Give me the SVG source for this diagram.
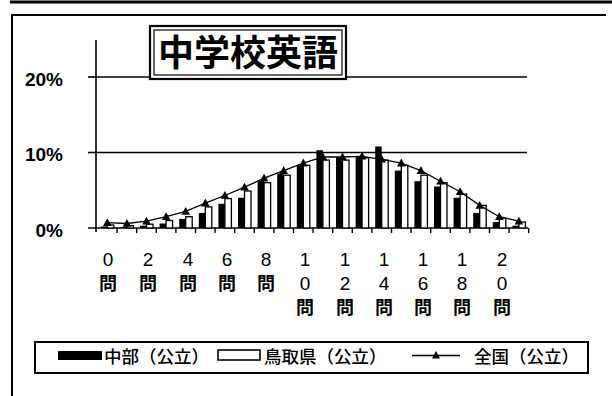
<svg xmlns="http://www.w3.org/2000/svg" width="612" height="396" viewBox="0 0 612 396">
<style>
.lbl{font-family:"Liberation Sans","Noto Sans CJK JP",sans-serif;font-size:19px;fill:#000;text-anchor:middle}
.kan{font-family:"Noto Sans CJK JP",sans-serif;font-size:18px;font-weight:bold;fill:#000;text-anchor:middle}
.ylbl{font-family:"Liberation Sans","Noto Sans CJK JP",sans-serif;font-size:19px;font-weight:bold;fill:#000;text-anchor:end}
.leg{font-family:"Noto Sans CJK JP",sans-serif;font-size:17.5px;font-weight:500;fill:#000}
.blk{fill:#000}
.wht{fill:#fff;stroke:#000;stroke-width:1.3}
.grid{stroke:#000;stroke-width:1.6;fill:none}
</style>
<defs>
<marker id="tri" markerUnits="userSpaceOnUse" markerWidth="10" markerHeight="10" refX="5" refY="5" viewBox="0 0 10 10" overflow="visible">
<path d="M5,0.5 L9.3,8.3 L0.7,8.3 Z" fill="#000"/>
</marker>
</defs>
<rect width="612" height="396" fill="#fff"/>
<g id="frame" fill="none" stroke="#000">
<line x1="10" y1="2" x2="612" y2="2" stroke-width="3"/>
<polyline points="12,396 12,15 606,15" stroke-width="2"/>
</g>
<g id="axes">
<line class="grid" x1="96" y1="77" x2="527" y2="77"/>
<line class="grid" x1="96" y1="152.5" x2="527" y2="152.5"/>
<line class="grid" x1="88" y1="228" x2="528" y2="228"/>
<line class="grid" x1="96" y1="40" x2="96" y2="232"/>
<line class="grid" x1="88" y1="77" x2="96" y2="77"/>
<line class="grid" x1="88" y1="152.5" x2="96" y2="152.5"/>
<g stroke="#000" stroke-width="1.4">
<line x1="117.1" y1="228" x2="117.1" y2="233"/><line x1="136.7" y1="228" x2="136.7" y2="233"/><line x1="156.3" y1="228" x2="156.3" y2="233"/><line x1="175.9" y1="228" x2="175.9" y2="233"/><line x1="195.5" y1="228" x2="195.5" y2="233"/><line x1="215.1" y1="228" x2="215.1" y2="233"/><line x1="234.7" y1="228" x2="234.7" y2="233"/><line x1="254.3" y1="228" x2="254.3" y2="233"/><line x1="273.9" y1="228" x2="273.9" y2="233"/><line x1="293.5" y1="228" x2="293.5" y2="233"/><line x1="313.1" y1="228" x2="313.1" y2="233"/><line x1="332.7" y1="228" x2="332.7" y2="233"/><line x1="352.3" y1="228" x2="352.3" y2="233"/><line x1="371.9" y1="228" x2="371.9" y2="233"/><line x1="391.5" y1="228" x2="391.5" y2="233"/><line x1="411.1" y1="228" x2="411.1" y2="233"/><line x1="430.7" y1="228" x2="430.7" y2="233"/><line x1="450.3" y1="228" x2="450.3" y2="233"/><line x1="469.9" y1="228" x2="469.9" y2="233"/><line x1="489.5" y1="228" x2="489.5" y2="233"/><line x1="509.1" y1="228" x2="509.1" y2="233"/><line x1="528.7" y1="228" x2="528.7" y2="233"/>
</g>
</g>
<g id="ylabels">
<text class="ylbl" x="63" y="86">20%</text>
<text class="ylbl" x="63" y="161">10%</text>
<text class="ylbl" x="63" y="237">0%</text>
</g>
<g id="series-chubu">
<rect class="blk" x="100.8" y="226.5" width="6.5" height="1.5"/>
<rect class="blk" x="120.4" y="227.2" width="6.5" height="0.8"/>
<rect class="blk" x="140" y="225.7" width="6.5" height="2.3"/>
<rect class="blk" x="159.6" y="223.5" width="6.5" height="4.5"/>
<rect class="blk" x="179.2" y="218.9" width="6.5" height="9.1"/>
<rect class="blk" x="198.8" y="212.9" width="6.5" height="15.1"/>
<rect class="blk" x="218.4" y="203.8" width="6.5" height="24.2"/>
<rect class="blk" x="238" y="197.8" width="6.5" height="30.2"/>
<rect class="blk" x="257.6" y="180.4" width="6.5" height="47.6"/>
<rect class="blk" x="277.2" y="173.6" width="6.5" height="54.4"/>
<rect class="blk" x="296.8" y="165.3" width="6.5" height="62.7"/>
<rect class="blk" x="316.4" y="150.2" width="6.5" height="77.8"/>
<rect class="blk" x="336" y="157" width="6.5" height="71"/>
<rect class="blk" x="355.6" y="156.3" width="6.5" height="71.7"/>
<rect class="blk" x="375.2" y="146.5" width="6.5" height="81.5"/>
<rect class="blk" x="394.8" y="170.6" width="6.5" height="57.4"/>
<rect class="blk" x="414.4" y="181.2" width="6.5" height="46.8"/>
<rect class="blk" x="434" y="186.5" width="6.5" height="41.5"/>
<rect class="blk" x="453.6" y="197.8" width="6.5" height="30.2"/>
<rect class="blk" x="473.2" y="212.9" width="6.5" height="15.1"/>
<rect class="blk" x="492.8" y="222" width="6.5" height="6"/>
<rect class="blk" x="512.4" y="225.7" width="6.5" height="2.3"/>
</g>
<g id="series-tottori">
<rect class="wht" x="107.3" y="225" width="6.5" height="3"/>
<rect class="wht" x="126.9" y="225.7" width="6.5" height="2.3"/>
<rect class="wht" x="146.5" y="224.2" width="6.5" height="3.8"/>
<rect class="wht" x="166.1" y="220.5" width="6.5" height="7.5"/>
<rect class="wht" x="185.7" y="216.7" width="6.5" height="11.3"/>
<rect class="wht" x="205.3" y="206.9" width="6.5" height="21.1"/>
<rect class="wht" x="224.9" y="198.6" width="6.5" height="29.4"/>
<rect class="wht" x="244.5" y="191" width="6.5" height="37"/>
<rect class="wht" x="264.1" y="182.7" width="6.5" height="45.3"/>
<rect class="wht" x="283.7" y="175.2" width="6.5" height="52.8"/>
<rect class="wht" x="303.3" y="165.3" width="6.5" height="62.7"/>
<rect class="wht" x="322.9" y="160.1" width="6.5" height="67.9"/>
<rect class="wht" x="342.5" y="160.1" width="6.5" height="67.9"/>
<rect class="wht" x="362.1" y="157.8" width="6.5" height="70.2"/>
<rect class="wht" x="381.7" y="160.1" width="6.5" height="67.9"/>
<rect class="wht" x="401.3" y="165.3" width="6.5" height="62.7"/>
<rect class="wht" x="420.9" y="175.2" width="6.5" height="52.8"/>
<rect class="wht" x="440.5" y="182.7" width="6.5" height="45.3"/>
<rect class="wht" x="460.1" y="194" width="6.5" height="34"/>
<rect class="wht" x="479.7" y="205.4" width="6.5" height="22.6"/>
<rect class="wht" x="499.3" y="218.2" width="6.5" height="9.8"/>
<rect class="wht" x="518.9" y="222" width="6.5" height="6"/>
</g>
<g id="series-national">
<polyline fill="none" stroke="#000" stroke-width="1.3" marker-start="url(#tri)" marker-mid="url(#tri)" marker-end="url(#tri)" points="107.3,222.7 126.9,223.5 146.5,221.2 166.1,216.7 185.7,211.4 205.3,203.1 224.9,195.5 244.5,187.2 264.1,178.2 283.7,170.6 303.3,163.1 322.9,157 342.5,157 362.1,156.3 381.7,159.3 401.3,163.1 420.9,170.6 440.5,181.2 460.1,191.8 479.7,205.4 499.3,216.7 518.9,221.2"/>
</g>
<g id="xlabels">
<text class="lbl" x="108" y="266">0</text>
<text class="lbl" x="148" y="266">2</text>
<text class="lbl" x="188" y="266">4</text>
<text class="lbl" x="227" y="266">6</text>
<text class="lbl" x="266" y="266">8</text>
<text class="lbl" x="305" y="266">1</text>
<text class="lbl" x="345" y="266">1</text>
<text class="lbl" x="384" y="266">1</text>
<text class="lbl" x="423" y="266">1</text>
<text class="lbl" x="462" y="266">1</text>
<text class="lbl" x="502" y="266">2</text>
<text class="kan" x="108" y="290">問</text>
<text class="kan" x="148" y="290">問</text>
<text class="kan" x="188" y="290">問</text>
<text class="kan" x="227" y="290">問</text>
<text class="kan" x="266" y="290">問</text>
<text class="lbl" x="305" y="290">0</text>
<text class="lbl" x="345" y="290">2</text>
<text class="lbl" x="384" y="290">4</text>
<text class="lbl" x="423" y="290">6</text>
<text class="lbl" x="462" y="290">8</text>
<text class="lbl" x="502" y="290">0</text>
<text class="kan" x="305" y="314">問</text>
<text class="kan" x="345" y="314">問</text>
<text class="kan" x="384" y="314">問</text>
<text class="kan" x="423" y="314">問</text>
<text class="kan" x="462" y="314">問</text>
<text class="kan" x="502" y="314">問</text>
</g>
<g id="title">
<rect x="150" y="26" width="196" height="53" fill="#fff" stroke="#000" stroke-width="2.2"/>
<rect x="154" y="30" width="188" height="45" fill="none" stroke="#000" stroke-width="1.2"/>
<text x="248" y="66" text-anchor="middle" font-family="Noto Sans CJK JP, sans-serif" font-size="36" font-weight="bold">中学校英語</text>
</g>
<g id="legend">
<rect x="35" y="342" width="553" height="31" fill="#fff" stroke="#000" stroke-width="2"/>
<rect x="58" y="351" width="44" height="9" fill="#000"/>
<text class="leg" x="104" y="363">中部（公立）</text>
<rect x="218" y="350" width="42" height="10" fill="#fff" stroke="#000" stroke-width="1.6"/>
<text class="leg" x="264" y="363">鳥取県（公立）</text>
<line x1="412" y1="355.5" x2="460" y2="355.5" stroke="#000" stroke-width="1.3"/>
<path d="M436,351 L440,358.5 L432,358.5 Z" fill="#000"/>
<text class="leg" x="474" y="363">全国（公立）</text>
</g>
</svg>
